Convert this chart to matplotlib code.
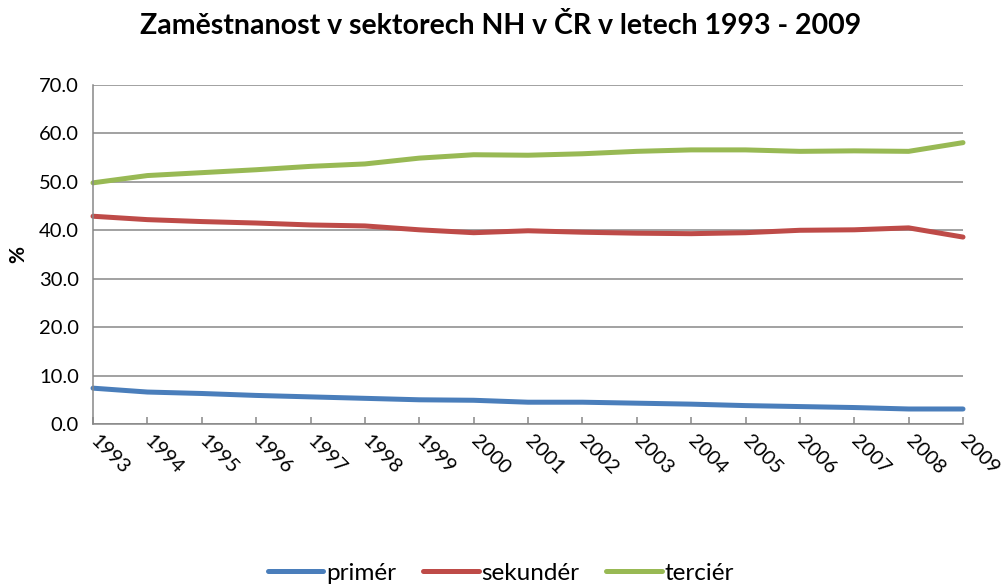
import matplotlib
matplotlib.use("Agg")
import matplotlib.pyplot as plt
from matplotlib.ticker import FormatStrFormatter, MultipleLocator

plt.rcParams["font.family"] = ["Lato", "DejaVu Sans"]

years = [str(y) for y in range(1993, 2010)]
primer = [7.4, 6.6, 6.3, 5.9, 5.6, 5.3, 5.0, 4.9, 4.5, 4.5, 4.3, 4.1, 3.8, 3.6, 3.4, 3.1, 3.1]
sekunder = [42.9, 42.2, 41.8, 41.5, 41.1, 40.9, 40.1, 39.5, 39.9, 39.6, 39.4, 39.3, 39.5, 40.0, 40.1, 40.5, 38.6]
tercier = [49.8, 51.3, 51.9, 52.5, 53.2, 53.7, 54.9, 55.6, 55.5, 55.8, 56.3, 56.6, 56.6, 56.3, 56.4, 56.3, 58.1]

SERIES = [
    ("primér", primer, "#4A7EBB"),
    ("sekundér", sekunder, "#BE4B48"),
    ("terciér", tercier, "#98B954"),
]
GRID_C = "#878787"

fig = plt.figure(figsize=(10.01, 5.84), dpi=100)
ax = fig.add_axes([93 / 1001, 1 - 424 / 584, (963 - 93) / 1001, (424 - 85) / 584])

x = list(range(len(years)))
for name, vals, col in SERIES:
    ax.plot(x, vals, color=col, lw=3.6, label=name, solid_capstyle="round", clip_on=False)

ax.set_xlim(0, len(years) - 1)
ax.set_ylim(0, 70)
ax.yaxis.set_major_locator(MultipleLocator(10))
ax.yaxis.set_major_formatter(FormatStrFormatter("%.1f"))
ax.grid(axis="y", color=GRID_C, lw=1.1)
ax.set_axisbelow(True)

for s in ["top", "right"]:
    ax.spines[s].set_visible(False)
for s in ["left", "bottom"]:
    ax.spines[s].set_color(GRID_C)
    ax.spines[s].set_linewidth(1.1)

ax.set_xticks(x)
ax.set_xticklabels(years, rotation=-45, ha="left", va="center", rotation_mode="anchor", fontsize=14.5)
ax.tick_params(axis="x", direction="in", length=5, color=GRID_C, width=1.1, pad=10)
ax.tick_params(axis="y", length=0, labelsize=14.5, pad=10)

ax.set_ylabel("%", fontsize=15, fontweight="bold", labelpad=8)
fig.text(0.5, 0.955, "Zaměstnanost v sektorech NH v ČR v letech 1993 - 2009",
         ha="center", va="center", fontsize=20.5, fontweight="bold")

fig.legend(loc="center", bbox_to_anchor=(0.5, 0.018), ncol=3, frameon=False,
           fontsize=17.5, handlelength=2.3, handletextpad=0.1, columnspacing=1.1)

fig.savefig("out.png", dpi=100)
